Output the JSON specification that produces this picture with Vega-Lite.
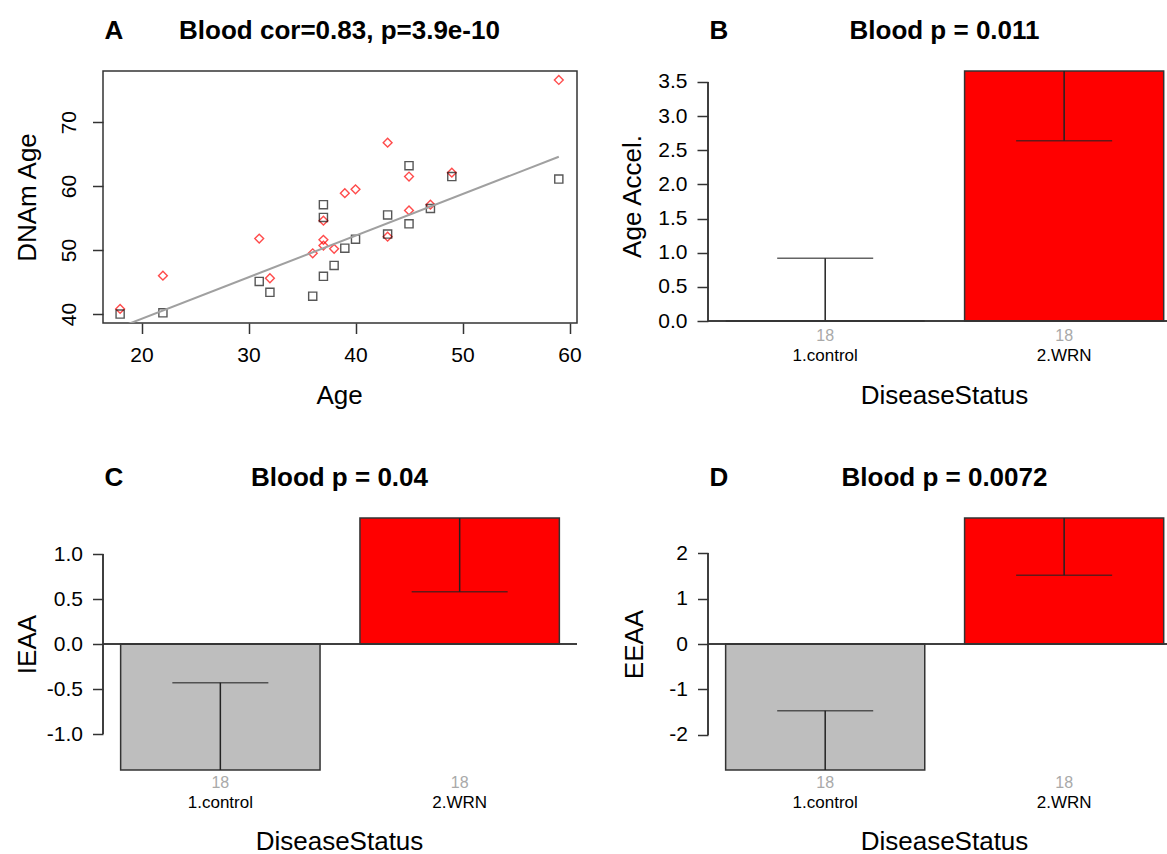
{
  "$schema": "https://vega.github.io/schema/vega-lite/v6.json",
  "autosize": {"type": "pad"},
  "padding": {"left": 13, "top": 16, "right": 0, "bottom": 0},
  "background": "#ffffff",
  "config": {
    "view": {"stroke": null},
    "font": "Liberation Sans",
    "axis": {"labelFont": "Liberation Sans", "titleFont": "Liberation Sans", "labelColor": "#000000", "titleColor": "#000000", "tickColor": "#333333", "domainColor": "#333333", "grid": false, "labelFlush": false, "labelOverlap": false}
  },
  "columns": 2,
  "bounds": "flush",
  "align": "each",
  "spacing": {"row": 195, "column": 131},
  "resolve": {"scale": {"color": "independent", "shape": "independent", "size": "independent"}},
  "datasets": {
    "scatter": [
      {"age": 18, "dnam": 40.8, "group": "WRN"},
      {"age": 22, "dnam": 46.0, "group": "WRN"},
      {"age": 31, "dnam": 51.8, "group": "WRN"},
      {"age": 32, "dnam": 45.6, "group": "WRN"},
      {"age": 36, "dnam": 49.5, "group": "WRN"},
      {"age": 37, "dnam": 54.6, "group": "WRN"},
      {"age": 37, "dnam": 51.6, "group": "WRN"},
      {"age": 37, "dnam": 50.7, "group": "WRN"},
      {"age": 38, "dnam": 50.2, "group": "WRN"},
      {"age": 39, "dnam": 58.9, "group": "WRN"},
      {"age": 40, "dnam": 59.5, "group": "WRN"},
      {"age": 43, "dnam": 66.8, "group": "WRN"},
      {"age": 43, "dnam": 52.1, "group": "WRN"},
      {"age": 45, "dnam": 61.5, "group": "WRN"},
      {"age": 45, "dnam": 56.2, "group": "WRN"},
      {"age": 47, "dnam": 57.1, "group": "WRN"},
      {"age": 49, "dnam": 62.1, "group": "WRN"},
      {"age": 59, "dnam": 76.6, "group": "WRN"},
      {"age": 18, "dnam": 40.0, "group": "control"},
      {"age": 22, "dnam": 40.2, "group": "control"},
      {"age": 31, "dnam": 45.1, "group": "control"},
      {"age": 32, "dnam": 43.4, "group": "control"},
      {"age": 36, "dnam": 42.8, "group": "control"},
      {"age": 37, "dnam": 57.1, "group": "control"},
      {"age": 37, "dnam": 55.1, "group": "control"},
      {"age": 37, "dnam": 45.9, "group": "control"},
      {"age": 38, "dnam": 47.6, "group": "control"},
      {"age": 39, "dnam": 50.3, "group": "control"},
      {"age": 40, "dnam": 51.7, "group": "control"},
      {"age": 43, "dnam": 55.5, "group": "control"},
      {"age": 43, "dnam": 52.5, "group": "control"},
      {"age": 45, "dnam": 63.2, "group": "control"},
      {"age": 45, "dnam": 54.1, "group": "control"},
      {"age": 47, "dnam": 56.5, "group": "control"},
      {"age": 49, "dnam": 61.5, "group": "control"},
      {"age": 59, "dnam": 61.1, "group": "control"}
    ],
    "fit": [
      {"age": 18, "dnam": 37.95},
      {"age": 59, "dnam": 64.6}
    ],
    "barB": [
      {"status": "1.control", "mean": 0.0, "lo": -0.92, "hi": 0.92, "n": 18},
      {"status": "2.WRN", "mean": 3.66, "lo": 2.64, "hi": 4.68, "n": 18}
    ],
    "barC": [
      {"status": "1.control", "mean": -1.4, "lo": -2.37, "hi": -0.43, "n": 18},
      {"status": "2.WRN", "mean": 1.4, "lo": 0.58, "hi": 2.22, "n": 18}
    ],
    "barD": [
      {"status": "1.control", "mean": -2.77, "lo": -4.07, "hi": -1.47, "n": 18},
      {"status": "2.WRN", "mean": 2.77, "lo": 1.51, "hi": 4.03, "n": 18}
    ]
  },
  "concat": [
    {
      "width": 474,
      "height": 252,
      "view": {"stroke": "#333333", "strokeWidth": 1.5},
      "layer": [
        {
          "data": {"name": "scatter"},
          "mark": {"type": "point", "filled": false, "strokeWidth": 1.4},
          "encoding": {
            "x": {"field": "age", "type": "quantitative", "scale": {"domain": [16.4, 60.7], "nice": false, "zero": false},
              "axis": {"orient": "bottom", "values": [20, 30, 40, 50, 60], "domain": false, "tickSize": 10.5, "tickWidth": 1.5, "labelFontSize": 21, "labelPadding": 11, "title": "Age", "titleFontSize": 26, "titleFontWeight": "normal", "titleAngle": 0, "titleAlign": "center", "titleBaseline": "alphabetic", "titleX": 236, "titleY": 80}},
            "y": {"field": "dnam", "type": "quantitative", "scale": {"domain": [38.6, 78.0], "nice": false, "zero": false},
              "axis": {"orient": "left", "values": [40, 50, 60, 70], "domain": false, "tickSize": 10.5, "tickWidth": 1.5, "labelFontSize": 21, "labelAngle": 270, "labelAlign": "center", "labelBaseline": "alphabetic", "labelPadding": 17, "title": "DNAm Age", "titleFontSize": 26, "titleFontWeight": "normal", "titleAngle": 270, "titleAlign": "center", "titleBaseline": "alphabetic", "titleX": -68, "titleY": 126}},
            "shape": {"field": "group", "type": "nominal", "scale": {"domain": ["control", "WRN"], "range": ["square", "diamond"]}, "legend": null},
            "color": {"field": "group", "type": "nominal", "scale": {"domain": ["control", "WRN"], "range": ["#111111", "#FF0000"]}, "legend": null},
            "size": {"field": "group", "type": "nominal", "scale": {"domain": ["control", "WRN"], "range": [66, 78]}, "legend": null}
          }
        },
        {
          "data": {"name": "fit"},
          "mark": {"type": "line", "color": "#A0A0A0", "strokeWidth": 2, "clip": true},
          "encoding": {
            "x": {"field": "age", "type": "quantitative", "scale": {"domain": [16.4, 60.7], "nice": false, "zero": false},
              "axis": {"orient": "top", "labels": false, "ticks": false, "domain": false, "title": "Blood cor=0.83, p=3.9e-10", "titleFontSize": 26, "titleFontWeight": "bold", "titleAngle": 0, "titleAlign": "center", "titleBaseline": "alphabetic", "titleX": 236, "titleY": -33}},
            "y": {"field": "dnam", "type": "quantitative", "scale": {"domain": [38.6, 78.0], "nice": false, "zero": false},
              "axis": {"orient": "right", "labels": false, "ticks": false, "domain": false, "title": "A", "titleFontSize": 26, "titleFontWeight": "bold", "titleAngle": 0, "titleAlign": "left", "titleBaseline": "alphabetic", "titleX": -473, "titleY": -33}}
          }
        }
      ],
      "resolve": {"scale": {"x": "independent", "y": "independent"}, "axis": {"x": "independent", "y": "independent"}}
    },
    {
      "width": 461,
      "height": 250,
      "data": {"name": "barB"},
      "layer": [
        {
          "mark": {"type": "bar", "stroke": "#333333", "strokeWidth": 1.5},
          "encoding": {
            "x": {"field": "status", "type": "nominal", "scale": {"type": "band", "domain": ["1.control", "2.WRN"], "paddingInner": 0.1667, "paddingOuter": 0.048, "align": 0.769}, "axis": null},
            "y": {"field": "mean", "type": "quantitative", "scale": {"domain": [0, 3.66], "nice": false, "zero": false},
              "axis": {"orient": "left", "values": [0, 0.5, 1, 1.5, 2, 2.5, 3, 3.5], "labelExpr": "replace(format(datum.value, '.1f'), '\u2212', '-')", "domain": false, "tickSize": 11, "tickWidth": 1.5, "labelFontSize": 21, "labelPadding": 10, "labelAlign": "right", "labelBaseline": "middle", "title": "Age Accel.", "titleFontSize": 26, "titleFontWeight": "normal", "titleAngle": 270, "titleAlign": "center", "titleBaseline": "alphabetic", "titleX": -68, "titleY": 125}},
            "y2": {"datum": 0},
            "color": {"field": "status", "type": "nominal", "scale": {"domain": ["1.control", "2.WRN"], "range": ["#BEBEBE", "#FF0000"]}, "legend": null}
          }
        },
        {
          "mark": {"type": "rule", "color": "#222222", "strokeWidth": 1.5, "clip": true},
          "encoding": {
            "x": {"field": "status", "type": "nominal", "scale": {"type": "band", "domain": ["1.control", "2.WRN"], "paddingInner": 0.1667, "paddingOuter": 0.048, "align": 0.769},
              "axis": {"orient": "bottom", "domain": false, "ticks": false, "tickSize": 0, "labelFontSize": 17, "labelPadding": 26, "labelAngle": 0, "title": "DiseaseStatus", "titleFontSize": 26, "titleFontWeight": "normal", "titleAngle": 0, "titleAlign": "center", "titleBaseline": "alphabetic", "titleX": 236, "titleY": 82}},
            "y": {"field": "lo", "type": "quantitative", "scale": {"domain": [0, 3.66], "nice": false, "zero": false}, "axis": null},
            "y2": {"field": "hi"}
          }
        },
        {
          "transform": [{"fold": ["lo", "hi"], "as": ["end", "value"]}],
          "mark": {"type": "tick", "color": "#222222", "size": 96, "thickness": 1.5, "clip": true},
          "encoding": {
            "x": {"field": "status", "type": "nominal", "scale": {"type": "band", "domain": ["1.control", "2.WRN"], "paddingInner": 0.1667, "paddingOuter": 0.048, "align": 0.769}, "axis": null},
            "y": {"field": "value", "type": "quantitative", "scale": {"domain": [0, 3.66], "nice": false, "zero": false}, "axis": null}
          }
        },
        {
          "mark": {"type": "text", "baseline": "top", "dy": 7, "fontSize": 16, "color": "#A9A9A9", "font": "Liberation Sans"},
          "encoding": {
            "x": {"field": "status", "type": "nominal", "scale": {"type": "band", "domain": ["1.control", "2.WRN"], "paddingInner": 0.1667, "paddingOuter": 0.048, "align": 0.769}, "axis": null},
            "y": {"datum": 0, "type": "quantitative", "scale": {"domain": [0, 3.66], "nice": false, "zero": false}, "axis": null},
            "text": {"field": "n", "type": "quantitative"}
          }
        },
        {
          "mark": {"type": "rule", "color": "#333333", "strokeWidth": 1.5},
          "encoding": {
            "y": {"datum": 0, "type": "quantitative", "scale": {"domain": [0, 3.66], "nice": false, "zero": false},
              "axis": {"orient": "right", "labels": false, "ticks": false, "domain": false, "title": "B", "titleFontSize": 26, "titleFontWeight": "bold", "titleAngle": 0, "titleAlign": "left", "titleBaseline": "alphabetic", "titleX": -460, "titleY": -33}}
          }
        },
        {
          "mark": {"type": "rule", "color": "#333333", "strokeWidth": 1.5},
          "encoding": {
            "x": {"datum": 0, "type": "quantitative", "scale": {"domain": [0, 1], "nice": false, "zero": false},
              "axis": {"orient": "top", "labels": false, "ticks": false, "domain": false, "title": "Blood p = 0.011", "titleFontSize": 26, "titleFontWeight": "bold", "titleAngle": 0, "titleAlign": "center", "titleBaseline": "alphabetic", "titleX": 236, "titleY": -33}},
            "y": {"datum": 0, "type": "quantitative", "scale": {"domain": [0, 3.66], "nice": false, "zero": false}, "axis": null},
            "y2": {"datum": 3.5}
          }
        }
      ],
      "resolve": {"scale": {"x": "independent", "y": "independent"}, "axis": {"x": "independent", "y": "independent"}}
    },
    {
      "width": 474,
      "height": 252,
      "data": {"name": "barC"},
      "layer": [
        {
          "mark": {"type": "bar", "stroke": "#333333", "strokeWidth": 1.5},
          "encoding": {
            "x": {"field": "status", "type": "nominal", "scale": {"type": "band", "domain": ["1.control", "2.WRN"], "paddingInner": 0.1667, "paddingOuter": 0.0737}, "axis": null},
            "y": {"field": "mean", "type": "quantitative", "scale": {"domain": [-1.4, 1.4], "nice": false, "zero": false},
              "axis": {"orient": "left", "values": [-1, -0.5, 0, 0.5, 1], "labelExpr": "replace(format(datum.value, '.1f'), '\u2212', '-')", "domain": false, "tickSize": 10.5, "tickWidth": 1.5, "labelFontSize": 21, "labelPadding": 10, "labelAlign": "right", "labelBaseline": "middle", "title": "IEAA", "titleFontSize": 26, "titleFontWeight": "normal", "titleAngle": 270, "titleAlign": "center", "titleBaseline": "alphabetic", "titleX": -68, "titleY": 126}},
            "y2": {"datum": 0},
            "color": {"field": "status", "type": "nominal", "scale": {"domain": ["1.control", "2.WRN"], "range": ["#BEBEBE", "#FF0000"]}, "legend": null}
          }
        },
        {
          "mark": {"type": "rule", "color": "#222222", "strokeWidth": 1.5, "clip": true},
          "encoding": {
            "x": {"field": "status", "type": "nominal", "scale": {"type": "band", "domain": ["1.control", "2.WRN"], "paddingInner": 0.1667, "paddingOuter": 0.0737},
              "axis": {"orient": "bottom", "domain": false, "ticks": false, "tickSize": 0, "labelFontSize": 17, "labelPadding": 24, "labelAngle": 0, "title": "DiseaseStatus", "titleFontSize": 26, "titleFontWeight": "normal", "titleAngle": 0, "titleAlign": "center", "titleBaseline": "alphabetic", "titleX": 236, "titleY": 79}},
            "y": {"field": "lo", "type": "quantitative", "scale": {"domain": [-1.4, 1.4], "nice": false, "zero": false}, "axis": null},
            "y2": {"field": "hi"}
          }
        },
        {
          "transform": [{"fold": ["lo", "hi"], "as": ["end", "value"]}],
          "mark": {"type": "tick", "color": "#222222", "size": 96, "thickness": 1.5, "clip": true},
          "encoding": {
            "x": {"field": "status", "type": "nominal", "scale": {"type": "band", "domain": ["1.control", "2.WRN"], "paddingInner": 0.1667, "paddingOuter": 0.0737}, "axis": null},
            "y": {"field": "value", "type": "quantitative", "scale": {"domain": [-1.4, 1.4], "nice": false, "zero": false}, "axis": null}
          }
        },
        {
          "mark": {"type": "text", "baseline": "top", "dy": 5, "fontSize": 16, "color": "#A9A9A9", "font": "Liberation Sans"},
          "encoding": {
            "x": {"field": "status", "type": "nominal", "scale": {"type": "band", "domain": ["1.control", "2.WRN"], "paddingInner": 0.1667, "paddingOuter": 0.0737}, "axis": null},
            "y": {"datum": -1.4, "type": "quantitative", "scale": {"domain": [-1.4, 1.4], "nice": false, "zero": false}, "axis": null},
            "text": {"field": "n", "type": "quantitative"}
          }
        },
        {
          "mark": {"type": "rule", "color": "#333333", "strokeWidth": 1.5},
          "encoding": {
            "y": {"datum": 0, "type": "quantitative", "scale": {"domain": [-1.4, 1.4], "nice": false, "zero": false},
              "axis": {"orient": "right", "labels": false, "ticks": false, "domain": false, "title": "C", "titleFontSize": 26, "titleFontWeight": "bold", "titleAngle": 0, "titleAlign": "left", "titleBaseline": "alphabetic", "titleX": -473, "titleY": -33}}
          }
        },
        {
          "mark": {"type": "rule", "color": "#333333", "strokeWidth": 1.5},
          "encoding": {
            "x": {"datum": 0, "type": "quantitative", "scale": {"domain": [0, 1], "nice": false, "zero": false},
              "axis": {"orient": "top", "labels": false, "ticks": false, "domain": false, "title": "Blood p = 0.04", "titleFontSize": 26, "titleFontWeight": "bold", "titleAngle": 0, "titleAlign": "center", "titleBaseline": "alphabetic", "titleX": 236, "titleY": -33}},
            "y": {"datum": -1, "type": "quantitative", "scale": {"domain": [-1.4, 1.4], "nice": false, "zero": false}, "axis": null},
            "y2": {"datum": 1}
          }
        }
      ],
      "resolve": {"scale": {"x": "independent", "y": "independent"}, "axis": {"x": "independent", "y": "independent"}}
    },
    {
      "width": 461,
      "height": 252,
      "data": {"name": "barD"},
      "layer": [
        {
          "mark": {"type": "bar", "stroke": "#333333", "strokeWidth": 1.5},
          "encoding": {
            "x": {"field": "status", "type": "nominal", "scale": {"type": "band", "domain": ["1.control", "2.WRN"], "paddingInner": 0.1667, "paddingOuter": 0.048, "align": 0.769}, "axis": null},
            "y": {"field": "mean", "type": "quantitative", "scale": {"domain": [-2.77, 2.77], "nice": false, "zero": false},
              "axis": {"orient": "left", "values": [-2, -1, 0, 1, 2], "labelExpr": "replace(format(datum.value, 'd'), '\u2212', '-')", "domain": false, "tickSize": 10.5, "tickWidth": 1.5, "labelFontSize": 21, "labelPadding": 10, "labelAlign": "right", "labelBaseline": "middle", "title": "EEAA", "titleFontSize": 26, "titleFontWeight": "normal", "titleAngle": 270, "titleAlign": "center", "titleBaseline": "alphabetic", "titleX": -66, "titleY": 126}},
            "y2": {"datum": 0},
            "color": {"field": "status", "type": "nominal", "scale": {"domain": ["1.control", "2.WRN"], "range": ["#BEBEBE", "#FF0000"]}, "legend": null}
          }
        },
        {
          "mark": {"type": "rule", "color": "#222222", "strokeWidth": 1.5, "clip": true},
          "encoding": {
            "x": {"field": "status", "type": "nominal", "scale": {"type": "band", "domain": ["1.control", "2.WRN"], "paddingInner": 0.1667, "paddingOuter": 0.048, "align": 0.769},
              "axis": {"orient": "bottom", "domain": false, "ticks": false, "tickSize": 0, "labelFontSize": 17, "labelPadding": 24, "labelAngle": 0, "title": "DiseaseStatus", "titleFontSize": 26, "titleFontWeight": "normal", "titleAngle": 0, "titleAlign": "center", "titleBaseline": "alphabetic", "titleX": 236, "titleY": 79}},
            "y": {"field": "lo", "type": "quantitative", "scale": {"domain": [-2.77, 2.77], "nice": false, "zero": false}, "axis": null},
            "y2": {"field": "hi"}
          }
        },
        {
          "transform": [{"fold": ["lo", "hi"], "as": ["end", "value"]}],
          "mark": {"type": "tick", "color": "#222222", "size": 96, "thickness": 1.5, "clip": true},
          "encoding": {
            "x": {"field": "status", "type": "nominal", "scale": {"type": "band", "domain": ["1.control", "2.WRN"], "paddingInner": 0.1667, "paddingOuter": 0.048, "align": 0.769}, "axis": null},
            "y": {"field": "value", "type": "quantitative", "scale": {"domain": [-2.77, 2.77], "nice": false, "zero": false}, "axis": null}
          }
        },
        {
          "mark": {"type": "text", "baseline": "top", "dy": 5, "fontSize": 16, "color": "#A9A9A9", "font": "Liberation Sans"},
          "encoding": {
            "x": {"field": "status", "type": "nominal", "scale": {"type": "band", "domain": ["1.control", "2.WRN"], "paddingInner": 0.1667, "paddingOuter": 0.048, "align": 0.769}, "axis": null},
            "y": {"datum": -2.77, "type": "quantitative", "scale": {"domain": [-2.77, 2.77], "nice": false, "zero": false}, "axis": null},
            "text": {"field": "n", "type": "quantitative"}
          }
        },
        {
          "mark": {"type": "rule", "color": "#333333", "strokeWidth": 1.5},
          "encoding": {
            "y": {"datum": 0, "type": "quantitative", "scale": {"domain": [-2.77, 2.77], "nice": false, "zero": false},
              "axis": {"orient": "right", "labels": false, "ticks": false, "domain": false, "title": "D", "titleFontSize": 26, "titleFontWeight": "bold", "titleAngle": 0, "titleAlign": "left", "titleBaseline": "alphabetic", "titleX": -460, "titleY": -33}}
          }
        },
        {
          "mark": {"type": "rule", "color": "#333333", "strokeWidth": 1.5},
          "encoding": {
            "x": {"datum": 0, "type": "quantitative", "scale": {"domain": [0, 1], "nice": false, "zero": false},
              "axis": {"orient": "top", "labels": false, "ticks": false, "domain": false, "title": "Blood p = 0.0072", "titleFontSize": 26, "titleFontWeight": "bold", "titleAngle": 0, "titleAlign": "center", "titleBaseline": "alphabetic", "titleX": 236, "titleY": -33}},
            "y": {"datum": -2, "type": "quantitative", "scale": {"domain": [-2.77, 2.77], "nice": false, "zero": false}, "axis": null},
            "y2": {"datum": 2}
          }
        }
      ],
      "resolve": {"scale": {"x": "independent", "y": "independent"}, "axis": {"x": "independent", "y": "independent"}}
    }
  ]
}
